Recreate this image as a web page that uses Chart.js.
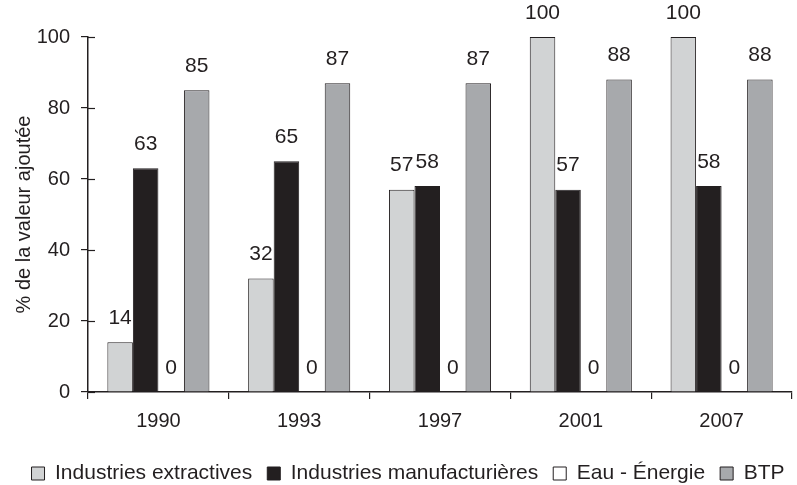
<!DOCTYPE html>
<html lang="fr">
<head>
<meta charset="utf-8">
<title>Part de la valeur ajoutée</title>
<script src="https://cdn.jsdelivr.net/npm/chart.js@4.4.1/dist/chart.umd.min.js"></script>
<style>
    html, body { margin: 0; padding: 0; background: #ffffff; }
    #graphique { width: 797px; height: 485px; }
</style>
</head>
<body>
<div id="graphique"><canvas id="myChart"></canvas></div>
<script>
// Données du graphique
const annees = ['1990', '1993', '1997', '2001', '2007'];
const extractives = [14, 32, 57, 100, 100];
const manufacturieres = [63, 65, 58, 57, 58];
const eauEnergie = [0, 0, 0, 0, 0];
const btp = [85, 87, 87, 88, 88];
const graduations = [0, 20, 40, 60, 80, 100];

const encre = '#231f20';
const police = '"Liberation Sans", Arial, Helvetica, sans-serif';

// Étiquettes de valeur au-dessus de chaque barre
const etiquettesValeurs = {
    id: 'etiquettesValeurs',
    afterDatasetsDraw(chart) {
        const ctx = chart.ctx;
        ctx.save();
        ctx.fillStyle = encre;
        ctx.font = '21px ' + police;
        ctx.textAlign = 'center';
        ctx.textBaseline = 'middle';
        chart.data.datasets.forEach((ds, i) => {
            chart.getDatasetMeta(i).data.forEach((barre, j) => {
                ctx.fillText(String(ds.data[j]), barre.x, barre.y - 24);
            });
        });
        ctx.restore();
    }
};

// Petits traits des graduations côté intérieur de l'axe vertical
const traitsInterieurs = {
    id: 'traitsInterieurs',
    afterDraw(chart) {
        const ctx = chart.ctx;
        const echelle = chart.scales.y;
        const gauche = chart.chartArea.left;
        ctx.save();
        ctx.strokeStyle = encre;
        ctx.lineWidth = 1.2;
        echelle.ticks.forEach(t => {
            const y = Math.round(echelle.getPixelForValue(t.value)) + 0.5;
            ctx.beginPath();
            ctx.moveTo(gauche, y);
            ctx.lineTo(gauche + 7, y);
            ctx.stroke();
        });
        ctx.restore();
    }
};

// Décale un peu la légende vers la droite
const decalageLegende = {
    id: 'decalageLegende',
    afterLayout(chart) {
        chart.legend.left += 12;
        chart.legend.right += 12;
    }
};

const data = {
    labels: annees,
    datasets: [
        { label: 'Industries extractives', data: extractives, backgroundColor: '#d1d3d4' },
        { label: 'Industries manufacturières', data: manufacturieres, backgroundColor: '#231f20' },
        { label: 'Eau - Énergie', data: eauEnergie, backgroundColor: '#ffffff' },
        { label: 'BTP', data: btp, backgroundColor: '#a7a9ac' }
    ].map(ds => Object.assign(ds, {
        borderColor: encre,
        borderWidth: 1,
        categoryPercentage: 0.725,
        barPercentage: 1
    }))
};

const options = {
    responsive: true,
    maintainAspectRatio: false,
    animation: false,
    layout: { padding: { top: 37, right: 5, left: 0, bottom: -9 } },
    plugins: {
        legend: {
            position: 'bottom',
            labels: {
                color: encre,
                font: { family: police, size: 21 },
                boxWidth: 13,
                boxHeight: 13,
                padding: 15
            }
        },
        tooltip: { enabled: false }
    },
    scales: {
        x: {
            offset: true,
            afterFit(scale) {
                scale.height = 56;
            },
            grid: {
                offset: true,
                drawOnChartArea: false,
                drawTicks: true,
                tickLength: 7,
                color: encre,
                lineWidth: 1.2
            },
            border: { color: encre, width: 1.5 },
            ticks: {
                color: encre,
                font: { family: police, size: 20 },
                padding: 10
            }
        },
        y: {
            min: 0,
            max: 100,
            afterBuildTicks(scale) {
                scale.ticks = graduations.map(v => ({ value: v }));
            },
            afterFit(scale) {
                scale.width = 88;
            },
            grid: {
                drawOnChartArea: false,
                drawTicks: true,
                tickLength: 7,
                color: encre,
                lineWidth: 1.2
            },
            border: { color: encre, width: 1.5 },
            ticks: {
                color: encre,
                font: { family: police, size: 20 },
                padding: 11
            },
            title: {
                display: true,
                text: '% de la valeur ajoutée',
                color: encre,
                font: { family: police, size: 20 },
                padding: { top: 12, bottom: 0 }
            }
        }
    }
};

const ctx = document.getElementById('myChart');
const myChart = new Chart(ctx, {
    type: 'bar',
    data: data,
    options: options,
    plugins: [etiquettesValeurs, traitsInterieurs, decalageLegende]
});
</script>
</body>
</html>
